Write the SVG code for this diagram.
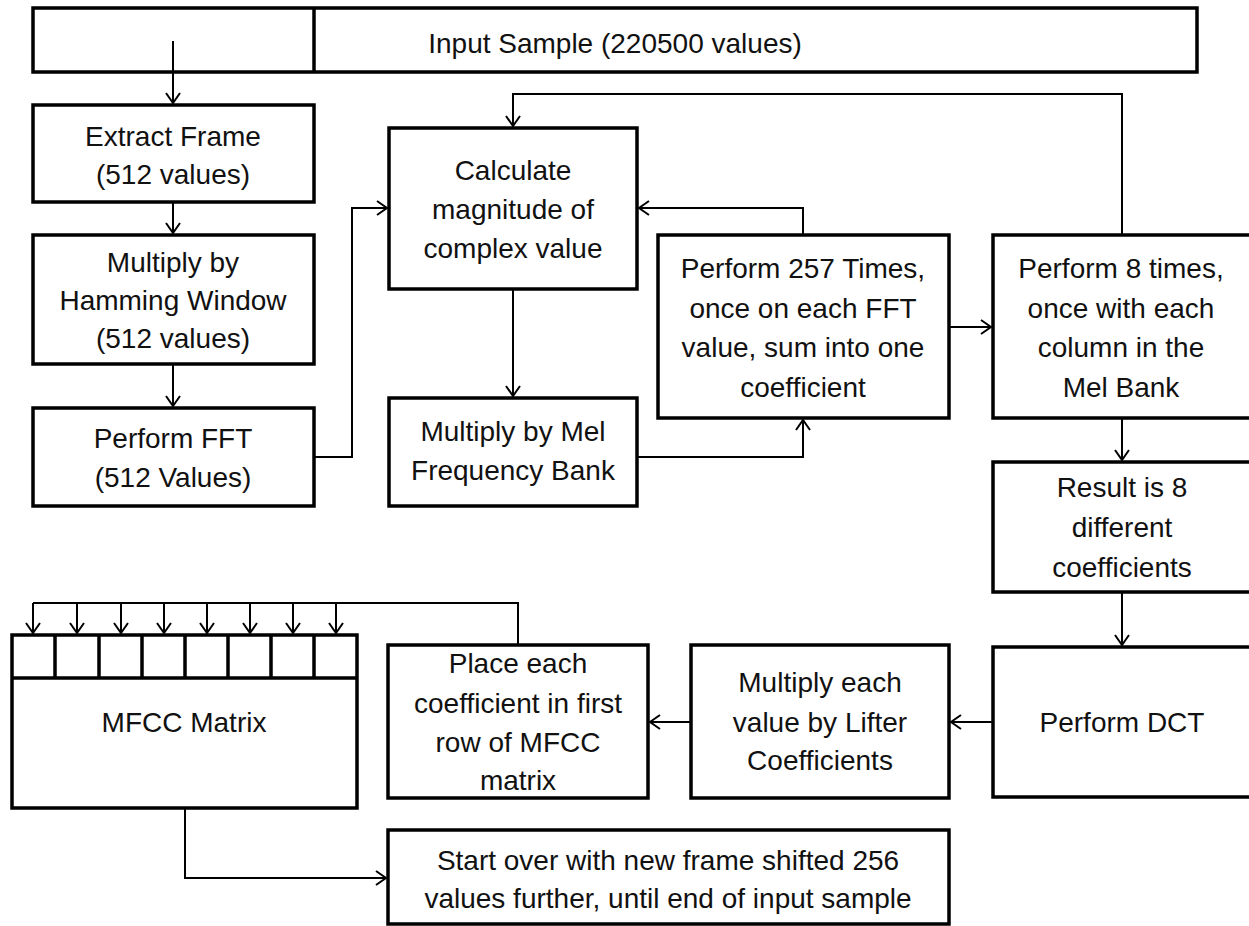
<svg xmlns="http://www.w3.org/2000/svg" width="1249" height="926" viewBox="0 0 1249 926">
<defs>
<marker id="ah" markerWidth="14" markerHeight="16" refX="11" refY="8" orient="auto" markerUnits="userSpaceOnUse">
<path d="M1,1 L11,8 L1,15" fill="none" stroke="#000" stroke-width="2"/>
</marker>
<style>
.box{fill:#fff;stroke:#000;stroke-width:3.5}
.cell{fill:none;stroke:#000;stroke-width:3.5}
.c{fill:none;stroke:#000;stroke-width:2}
.t{font-family:"Liberation Sans",Arial,sans-serif;font-size:28px;fill:#111;text-anchor:middle}
</style>
</defs>
<rect width="1249" height="926" fill="#fff"/>

<g id="input">
<rect class="box" x="33" y="8" width="1164" height="64"/>
<line class="cell" x1="314" y1="8" x2="314" y2="72"/>
<text class="t" x="615" y="53">Input Sample (220500 values)</text>
</g>

<g id="extract">
<rect class="box" x="33" y="105" width="281" height="97"/>
<text class="t" x="173" y="146">Extract Frame</text>
<text class="t" x="173" y="184">(512 values)</text>
</g>

<g id="hamming">
<rect class="box" x="33" y="235" width="281" height="129"/>
<text class="t" x="173" y="272">Multiply by</text>
<text class="t" x="173" y="310">Hamming Window</text>
<text class="t" x="173" y="348">(512 values)</text>
</g>

<g id="fft">
<rect class="box" x="33" y="408" width="281" height="98"/>
<text class="t" x="173" y="448">Perform FFT</text>
<text class="t" x="173" y="487">(512 Values)</text>
</g>

<g id="magnitude">
<rect class="box" x="389" y="128" width="248" height="161"/>
<text class="t" x="513" y="180">Calculate</text>
<text class="t" x="513" y="219">magnitude of</text>
<text class="t" x="513" y="258">complex value</text>
</g>

<g id="melbank">
<rect class="box" x="389" y="398" width="248" height="108"/>
<text class="t" x="513" y="441">Multiply by Mel</text>
<text class="t" x="513" y="480">Frequency Bank</text>
</g>

<g id="perform257">
<rect class="box" x="658" y="235" width="291" height="183"/>
<text class="t" x="803" y="278">Perform 257 Times,</text>
<text class="t" x="803" y="318">once on each FFT</text>
<text class="t" x="803" y="357">value, sum into one</text>
<text class="t" x="803" y="397">coefficient</text>
</g>

<g id="perform8">
<rect class="box" x="993" y="235" width="258" height="183"/>
<text class="t" x="1121" y="278">Perform 8 times,</text>
<text class="t" x="1121" y="318">once with each</text>
<text class="t" x="1121" y="357">column in the</text>
<text class="t" x="1121" y="397">Mel Bank</text>
</g>

<g id="result">
<rect class="box" x="993" y="462" width="258" height="130"/>
<text class="t" x="1122" y="497">Result is 8</text>
<text class="t" x="1122" y="537">different</text>
<text class="t" x="1122" y="577">coefficients</text>
</g>

<g id="dct">
<rect class="box" x="993" y="647" width="258" height="150"/>
<text class="t" x="1122" y="732">Perform DCT</text>
</g>

<g id="lifter">
<rect class="box" x="691" y="645" width="258" height="153"/>
<text class="t" x="820" y="692">Multiply each</text>
<text class="t" x="820" y="732">value by Lifter</text>
<text class="t" x="820" y="770">Coefficients</text>
</g>

<g id="place">
<rect class="box" x="388" y="645" width="260" height="153"/>
<text class="t" x="518" y="673">Place each</text>
<text class="t" x="518" y="713">coefficient in first</text>
<text class="t" x="518" y="752">row of MFCC</text>
<text class="t" x="518" y="790">matrix</text>
</g>

<g id="mfcc">
<rect class="box" x="12" y="635" width="345" height="173"/>
<path class="cell" d="M12,678 H357 M55,635 V678 M99,635 V678 M142,635 V678 M185,635 V678 M228,635 V678 M271,635 V678 M314,635 V678"/>
<text class="t" x="184" y="732">MFCC Matrix</text>
</g>

<g id="startover">
<rect class="box" x="388" y="830" width="561" height="94"/>
<text class="t" x="668" y="870">Start over with new frame shifted 256</text>
<text class="t" x="668" y="908">values further, until end of input sample</text>
</g>

<g id="connectors">
<path class="c" d="M173,41 V103" marker-end="url(#ah)"/>
<path class="c" d="M173,203 V233" marker-end="url(#ah)"/>
<path class="c" d="M173,365 V406" marker-end="url(#ah)"/>
<path class="c" d="M314,457 H352 V208 H387" marker-end="url(#ah)"/>
<path class="c" d="M513,290 V396" marker-end="url(#ah)"/>
<path class="c" d="M638,457 H803 V420" marker-end="url(#ah)"/>
<path class="c" d="M803,234 V208 H639" marker-end="url(#ah)"/>
<path class="c" d="M950,327 H991" marker-end="url(#ah)"/>
<path class="c" d="M1122,234 V94 H513 V126" marker-end="url(#ah)"/>
<path class="c" d="M1122,419 V460" marker-end="url(#ah)"/>
<path class="c" d="M1122,593 V645" marker-end="url(#ah)"/>
<path class="c" d="M992,722 H951" marker-end="url(#ah)"/>
<path class="c" d="M690,722 H650" marker-end="url(#ah)"/>
<path class="c" d="M518,644 V603 H33"/>
<path class="c" d="M33,603 V633" marker-end="url(#ah)"/>
<path class="c" d="M77,603 V633" marker-end="url(#ah)"/>
<path class="c" d="M121,603 V633" marker-end="url(#ah)"/>
<path class="c" d="M164,603 V633" marker-end="url(#ah)"/>
<path class="c" d="M207,603 V633" marker-end="url(#ah)"/>
<path class="c" d="M250,603 V633" marker-end="url(#ah)"/>
<path class="c" d="M293,603 V633" marker-end="url(#ah)"/>
<path class="c" d="M336,603 V633" marker-end="url(#ah)"/>
<path class="c" d="M185,809 V878 H386" marker-end="url(#ah)"/>
</g>
</svg>
